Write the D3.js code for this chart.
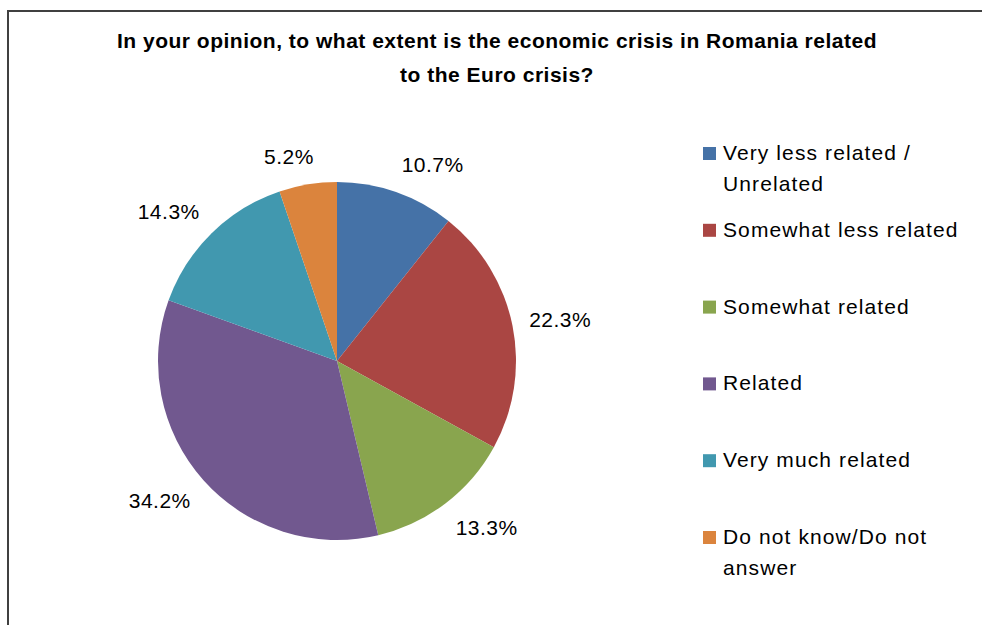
<!DOCTYPE html>
<html>
<head>
<meta charset="utf-8">
<script src="https://cdn.jsdelivr.net/npm/d3@7"></script>
<style>
  html, body { margin: 0; padding: 0; background: #fff; }
  svg { display: block; }
  text { font-family: "Liberation Sans", Arial, sans-serif; fill: #000; }
</style>
</head>
<body>
<svg id="chart" width="982" height="625"></svg>
<script>
// Survey answers, in the order the slices run clockwise from 12 o'clock
const categories = [
  "Very less related / Unrelated",
  "Somewhat less related",
  "Somewhat related",
  "Related",
  "Very much related",
  "Do not know/Do not answer"
];
const shares = [10.7, 22.3, 13.3, 34.2, 14.3, 5.2];
const colors = ["#4572A7", "#AA4643", "#89A54E", "#71588F", "#4198AF", "#DB843D"];
const titleLines = [
  "In your opinion, to what extent is the economic crisis in Romania related",
  "to the Euro crisis?"
];

const svg = d3.select("#chart");
const W = 982, H = 625;

// Chart area frame (runs off the right and bottom edges)
svg.append("rect")
  .attr("x", 8).attr("y", 11)
  .attr("width", W + 20).attr("height", H + 20)
  .attr("fill", "#fff")
  .attr("stroke", "#404040").attr("stroke-width", 2);

// Title
svg.append("g").selectAll("text")
  .data(titleLines)
  .join("text")
  .attr("x", 497)
  .attr("y", (d, i) => 48 + i * 34)
  .attr("text-anchor", "middle")
  .attr("font-weight", "bold")
  .attr("font-size", 21)
  .attr("letter-spacing", 0.5)
  .text(d => d);

// Pie
const cx = 337, cy = 361, radius = 179;
const data = categories.map((c, i) => ({ category: c, value: shares[i], color: colors[i] }));
const pie = d3.pie().value(d => d.value).sort(null);
const arcs = pie(data);
const arc = d3.arc().innerRadius(0).outerRadius(radius);

const g = svg.append("g").attr("transform", `translate(${cx},${cy})`);
g.selectAll("path")
  .data(arcs)
  .join("path")
  .attr("d", arc)
  .attr("fill", d => d.data.color);

// Value labels placed just outside each slice, nudged away from the rim
const labelFont = 21;
const gap = 17;
const clamp = v => Math.max(-1, Math.min(1, v));
const labels = g.selectAll("text.val")
  .data(arcs)
  .join("text")
  .attr("class", "val")
  .attr("font-size", labelFont)
  .attr("letter-spacing", 0.5)
  .attr("text-anchor", "middle")
  .text(d => d.data.value.toFixed(1) + "%");

labels.each(function(d) {
  const bb = this.getBBox();
  const a = (d.startAngle + d.endAngle) / 2;
  const s = Math.sin(a), c = Math.cos(a);
  const ax = s * (radius + gap), ay = -c * (radius + gap);
  const fx = clamp(s * 4), fy = clamp(-c * 1.2);
  const mx = ax + fx * bb.width / 2;
  const my = ay + fy * bb.height / 2;
  // convert box centre to baseline position
  const baseOff = -(bb.y + bb.height / 2);
  d3.select(this).attr("x", mx).attr("y", my + baseOff);
});

// Legend
const legendX = 703, legendTop = 160, itemStep = 76.8, lineH = 31, wrapW = 250;
const legend = svg.append("g");
data.forEach((d, i) => {
  const baseY = legendTop + i * itemStep;
  legend.append("rect")
    .attr("x", legendX).attr("y", baseY - 13)
    .attr("width", 13).attr("height", 13)
    .attr("fill", d.color);
  const t = legend.append("text")
    .attr("x", legendX + 20).attr("y", baseY)
    .attr("font-size", labelFont)
    .attr("letter-spacing", 1.1);
  // wrap words to the legend width
  const words = d.category.split(" ");
  let line = [], lineNo = 0;
  let tspan = t.append("tspan").attr("x", legendX + 20).attr("y", baseY);
  words.forEach(w => {
    line.push(w);
    tspan.text(line.join(" "));
    if (tspan.node().getComputedTextLength() > wrapW && line.length > 1) {
      line.pop();
      tspan.text(line.join(" "));
      line = [w];
      lineNo++;
      tspan = t.append("tspan").attr("x", legendX + 20).attr("y", baseY + lineNo * lineH).text(w);
    }
  });
});
</script>
</body>
</html>
